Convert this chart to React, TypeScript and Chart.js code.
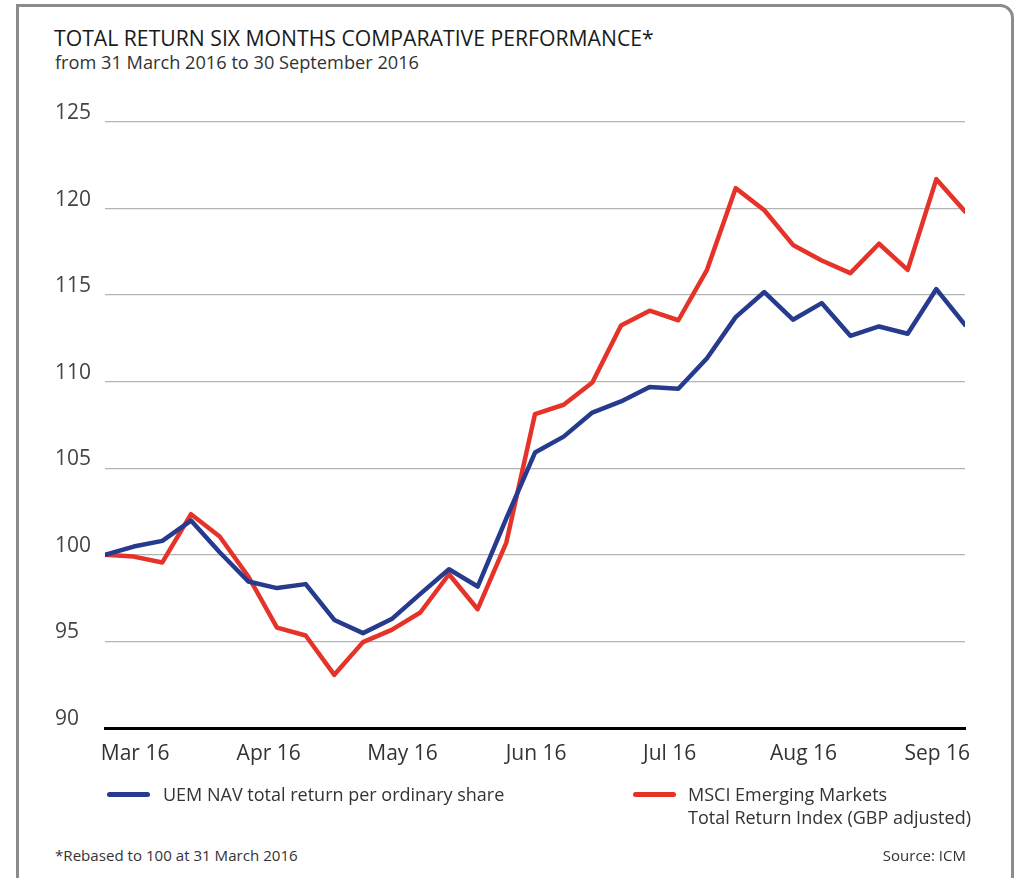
import React, { useEffect, useRef } from "react";
import { Chart, registerables } from "chart.js";

Chart.register(...registerables);

const pointIndex: number[] = Array.from({ length: 31 }, (_, i) => i);

const uemNav: number[] = [
  100, 100.48, 100.81, 101.98, 100.15, 98.46, 98.08, 98.31, 96.24, 95.48,
  96.29, 97.75, 99.17, 98.17, 102.1, 105.91, 106.83, 108.22, 108.86, 109.69,
  109.59, 111.36, 113.73, 115.18, 113.58, 114.54, 112.65, 113.19, 112.77,
  115.35, 113.29,
];

const msciEm: number[] = [
  100, 99.9, 99.56, 102.35, 101.06, 98.75, 95.8, 95.34, 93.07, 94.96, 95.67,
  96.67, 98.88, 96.86, 100.71, 108.13, 108.67, 109.95, 113.25, 114.1, 113.55,
  116.46, 121.18, 119.9, 117.9, 117.0, 116.27, 117.97, 116.46, 121.7, 119.83,
];

const xTickLabels: string[] = ["Mar 16", "Apr 16", "May 16", "Jun 16", "Jul 16", "Aug 16", "Sep 16"];
const xTickPositions: number[] = [1.05, 5.71, 10.38, 15.04, 19.7, 24.37, 29.03];

const yMin = 90;
const yMax = 125;
const yStep = 5;

const BLUE = "#263b8e";
const RED = "#e5332a";
const FONT = "'Open Sans', 'DejaVu Sans', sans-serif";

export default function App() {
  const canvasRef = useRef<HTMLCanvasElement | null>(null);

  useEffect(() => {
    const canvas = canvasRef.current;
    if (!canvas) return;
    const chart = new Chart(canvas, {
      type: "line",
      data: {
        datasets: [
          {
            label: "UEM NAV total return per ordinary share",
            data: pointIndex.map((i) => ({ x: i, y: uemNav[i] })),
            borderColor: BLUE,
            borderWidth: 4.5,
            pointRadius: 0,
            tension: 0,
            borderJoinStyle: "round",
            borderCapStyle: "round",
            fill: false,
          },
          {
            label: "MSCI Emerging Markets Total Return Index (GBP adjusted)",
            data: pointIndex.map((i) => ({ x: i, y: msciEm[i] })),
            borderColor: RED,
            borderWidth: 4.5,
            pointRadius: 0,
            tension: 0,
            borderJoinStyle: "round",
            borderCapStyle: "round",
            fill: false,
          },
        ],
      },
      options: {
        animation: false,
        responsive: false,
        maintainAspectRatio: false,
        layout: { padding: { top: 32, right: 35, bottom: 21, left: 0 } },
        plugins: {
          legend: { display: false },
          tooltip: { enabled: false },
          title: { display: false },
        },
        scales: {
          x: {
            type: "linear",
            min: 0,
            max: pointIndex.length - 1,
            grid: { display: false, drawTicks: false },
            border: { display: true, color: "#000000", width: 3 },
            afterBuildTicks: (scale: any) => {
              scale.ticks = xTickPositions.map((v) => ({ value: v }));
            },
            afterFit: (scale: any) => {
              scale.height = 41;
            },
            ticks: {
              autoSkip: false,
              maxRotation: 0,
              padding: 13,
              color: "#333333",
              font: { family: FONT, size: 21 },
              callback: (_v: any, idx: number) => xTickLabels[idx],
            },
          },
          y: {
            type: "linear",
            min: yMin,
            max: yMax,
            grid: { color: "#b3b3b3", lineWidth: 1.3, drawTicks: false },
            border: { display: false },
            afterFit: (scale: any) => {
              scale.width = 50;
            },
            ticks: {
              stepSize: yStep,
              crossAlign: "far",
              labelOffset: -9,
              padding: 4,
              color: "#444444",
              font: { family: FONT, size: 21 },
            },
          },
        },
      },
    });
    return () => chart.destroy();
  }, []);

  const abs = (s: React.CSSProperties): React.CSSProperties => ({ position: "absolute", whiteSpace: "nowrap", ...s });

  return (
    <div
      style={{
        position: "fixed",
        left: 0,
        top: 0,
        width: 1016,
        height: 878,
        overflow: "hidden",
        background: "#ffffff",
        fontFamily: FONT,
      }}
    >
      <div
        style={{
          position: "absolute",
          left: 16,
          top: 4,
          width: 998,
          height: 1000,
          boxSizing: "border-box",
          border: "3px solid #898b8d",
          borderTopRightRadius: 14,
        }}
      />
      <div style={abs({ left: 54, top: 25, fontSize: 21.2, lineHeight: "26px", color: "#1a1a1a" })}>
        TOTAL RETURN SIX MONTHS COMPARATIVE PERFORMANCE*
      </div>
      <div style={abs({ left: 55, top: 50, fontSize: 18.2, lineHeight: "24px", color: "#333333" })}>
        from 31 March 2016 to 30 September 2016
      </div>
      <canvas
        ref={canvasRef}
        width={945}
        height={700}
        style={{ position: "absolute", left: 55, top: 90, width: 945, height: 700 }}
      />
      <div style={abs({ left: 107, top: 792, width: 43, height: 5, borderRadius: 3, background: BLUE })} />
      <div style={abs({ left: 163, top: 783, fontSize: 18, lineHeight: "22px", color: "#333333" })}>
        UEM NAV total return per ordinary share
      </div>
      <div style={abs({ left: 633, top: 792, width: 43, height: 5, borderRadius: 3, background: RED })} />
      <div style={abs({ left: 688, top: 783, fontSize: 18, lineHeight: "23px", color: "#333333" })}>
        MSCI Emerging Markets
        <br />
        Total Return Index (GBP adjusted)
      </div>
      <div style={abs({ left: 55, top: 845, fontSize: 15.1, lineHeight: "20px", color: "#333333" })}>
        *Rebased to 100 at 31 March 2016
      </div>
      <div style={abs({ right: 1016 - 966, top: 845, fontSize: 15, lineHeight: "20px", color: "#333333" })}>
        Source: ICM
      </div>
    </div>
  );
}
